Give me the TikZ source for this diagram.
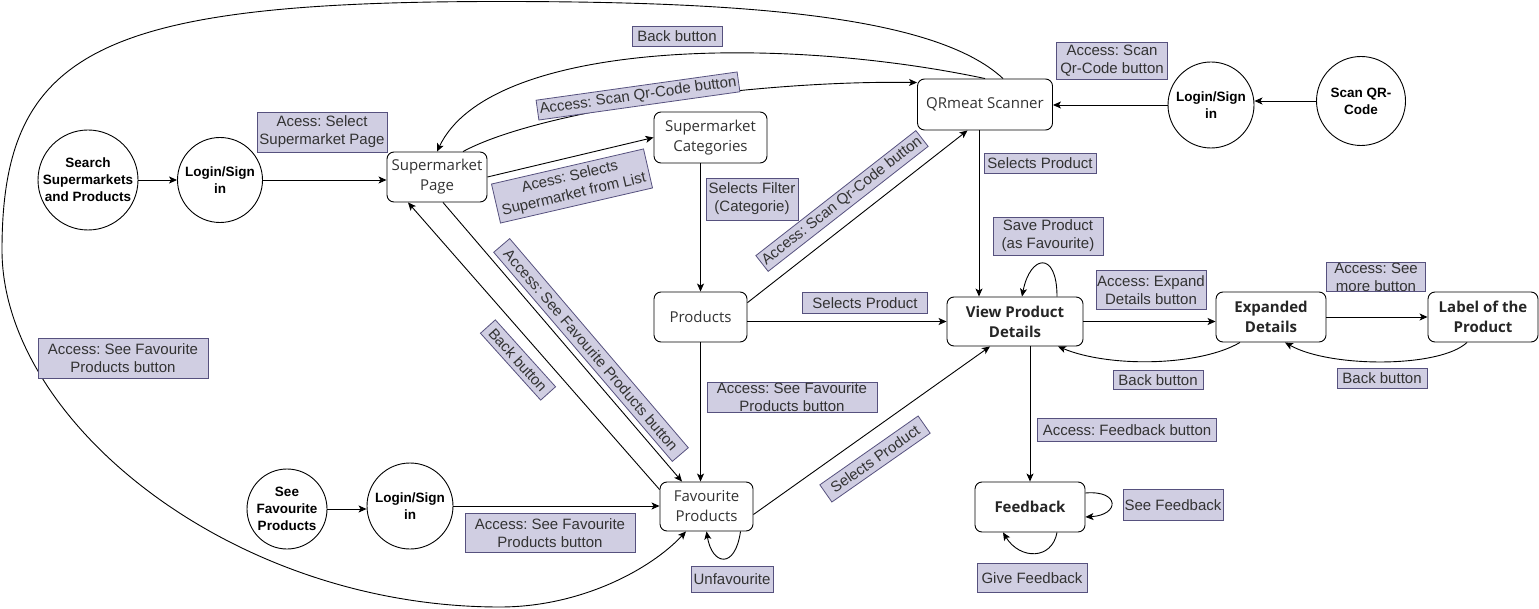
\documentclass[tikz,border=0pt]{standalone}
\usepackage{fontspec}
\setmainfont{Liberation Sans}
\newfontfamily\boxfont{Open Sans}
\usetikzlibrary{arrows.meta,calc}
\definecolor{labfill}{HTML}{D0CEE2}
\definecolor{labdraw}{HTML}{56517E}
\definecolor{txt}{HTML}{333333}
\frenchspacing
\begin{document}
\frenchspacing
\begin{tikzpicture}[x=1pt,y=-1pt,
  >={Stealth[length=8pt,width=7pt,inset=2pt]},
  circ/.style={circle,draw,line width=0.9pt,fill=white,inner sep=0pt},
  ctext/.style={align=center,inner sep=0pt,font=\bfseries\fontsize{13.5}{17}\selectfont},
  rbox/.style={rectangle,rounded corners=7pt,draw,line width=0.9pt,fill=white,inner sep=0pt,align=center,text=txt,font=\boxfont\fontsize{15}{20}\selectfont},
  rboxb/.style={rbox,text=black!85,font=\boxfont\bfseries\fontsize{15}{20}\selectfont},
  lab/.style={rectangle,draw=labdraw,fill=labfill,line width=0.8pt,inner sep=0pt,align=center,text=txt,font=\fontsize{15}{18}\selectfont},
  conn/.style={draw,line width=0.9pt,->},
]
\useasboundingbox[fill=white] (0,0) rectangle (1539,609);

% circles
\node[circ,minimum size=100pt,label={[ctext]center:{Search\\Supermarkets\\and Products}}] (search) at (88,180) {};
\node[circ,minimum size=85pt,label={[ctext]center:{Login/Sign\\in}}] (l1) at (220,180) {};
\node[circ,minimum size=89pt,label={[ctext]center:{Scan QR-\\Code}}] (scan) at (1361,101) {};
\node[circ,minimum size=86pt,label={[ctext]center:{Login/Sign\\in}}] (l3) at (1211,105) {};
\node[circ,minimum size=80pt,label={[ctext]center:{See\\Favourite\\Products}}] (sf) at (287,509) {};
\node[circ,minimum size=86pt,label={[ctext]center:{Login/Sign\\in}}] (l2) at (410,506) {};

% rounded boxes
\node[rbox,minimum width=100pt,minimum height=50pt] (sp) at (437,177) {Supermarket\\Page};
\node[rbox,minimum width=113pt,minimum height=51pt] (sc) at (710.5,137.5) {Supermarket\\Categories};
\node[rbox,minimum width=135pt,minimum height=51pt] (qr) at (985,104.5) {QRmeat Scanner};
\node[rbox,minimum width=93pt,minimum height=50pt] (prod) at (700.5,317) {Products};
\node[rbox,minimum width=93pt,minimum height=49pt] (fav) at (706.5,506.5) {Favourite\\Products};
\node[rboxb,minimum width=136pt,minimum height=49pt] (vpd) at (1015,321.5) {View Product\\Details};
\node[rboxb,minimum width=110pt,minimum height=50pt] (ed) at (1271,317) {Expanded\\Details};
\node[rboxb,minimum width=110pt,minimum height=50pt] (lbl) at (1483,317) {Label of the\\Product};
\node[rboxb,minimum width=110pt,minimum height=50pt] (fb) at (1030,507) {Feedback};

% waypoints of the long loop
\coordinate (w1) at (500,1.5);
\coordinate (w2) at (2,250);
\coordinate (w3) at (500,607);

% connectors
\draw[conn] (search.east) -- (search.east -| l1.west);
\draw[conn] (l1.east) -- (l1.east -| sp.west);
\draw[conn] (sp.east) -- (sc.west);
\draw[conn] ([xshift=26pt]sp.north) .. controls (540,110) and (760,80) .. ([yshift=-4pt]qr.north west);
\draw[conn] (qr.north) .. controls (780,35) and (490,40) .. (sp.north);
\draw[conn] ([xshift=18pt]qr.north) .. controls (935,15) and (740,1.5) .. (w1)
   .. controls (100,1.5) and (2,50) .. (w2)
   .. controls (2,420) and (230,607) .. (w3)
   .. controls (580,607) and (650,570) .. ([xshift=-20.5pt]fav.south);
\draw[conn] ([xshift=6pt]sp.south) -- ([xshift=-24.5pt]fav.north);
\draw[conn] ([yshift=-8pt]fav.north west) -- ([xshift=-29pt]sp.south);
\draw[conn] (sc.south -| prod.north) -- (prod.north);
\draw[conn] (prod.south) -- (prod.south |- fav.north);
\draw[conn] (vpd.west -| prod.east) -- (vpd.west);
\draw[conn] (prod.17) -- (qr.236);
\draw[conn] ([xshift=-6pt]qr.south) -- ([xshift=-6pt]qr.south |- vpd.north);
\draw[conn] (l3.west) -- (l3.west -| qr.east);
\draw[conn] (scan.west) -- (scan.west -| l3.east);
\draw[conn] ([yshift=-8pt]fav.east) -- ([xshift=-25pt]vpd.south);
\draw[conn] (vpd.east) -- (vpd.east -| ed.west);
\draw[conn] (ed.east) -- (lbl.west);
\draw[conn] ([xshift=-31pt]ed.south) .. controls (1200,366) and (1110,368) .. ([xshift=43pt]vpd.south);
\draw[conn] ([xshift=-16pt]lbl.south) .. controls (1440,368) and (1330,368) .. ([xshift=14pt]ed.south);
\draw[conn] (fb.north |- vpd.south) -- (fb.north);
\draw[conn] ([xshift=42pt]vpd.north) .. controls (1057,250) and (1030,255) .. ([xshift=7pt]vpd.north);
\draw[conn] ([xshift=34pt]fav.south) .. controls (735,570) and (712,565) .. (fav.south);
\draw[conn] ([yshift=14pt]fb.east) .. controls (1120,490) and (1120,515) .. ([yshift=-10pt]fb.east);
\draw[conn] ([xshift=27pt]fb.south) .. controls (1052,560) and (1020,560) .. ([xshift=-27pt]fb.south);
\draw[conn] (sf.east) -- (sf.east -| l2.west);
\draw[conn] (l2.east) -- (l2.east -| fav.west);

% labels
\node[lab,minimum width=130pt,minimum height=40pt] (t1) at (322,132) {Acess: Select\\Supermarket Page};
\node[lab,minimum width=90pt,minimum height=20pt] (t2) at (677,36.5) {Back button};
\node[lab,rotate=8,minimum width=203pt,minimum height=20pt] (t3) at (638,96) {Access: Scan Qr-Code button};
\node[lab,rotate=13,minimum width=156pt,minimum height=40pt] (t4) at (572,186) {Acess: Selects\\Supermarket from List};
\node[lab,minimum width=92pt,minimum height=42pt] (t5) at (752,199) {Selects Filter\\(Categorie)};
\node[lab,rotate=38,minimum width=203pt,minimum height=20pt] (t6) at (842,201) {Access: Scan Qr-Code button};
\node[lab,minimum width=111pt,minimum height=37pt] (t7) at (1112,61) {Access: Scan\\Qr-Code button};
\node[lab,minimum width=112pt,minimum height=20pt] (t8) at (1040,163) {Selects Product};
\node[lab,minimum width=110pt,minimum height=38pt] (t9) at (1048,236) {Save Product\\(as Favourite)};
\node[lab,minimum width=125pt,minimum height=21pt] (t10) at (865,303) {Selects Product};
\node[lab,minimum width=110pt,minimum height=39pt] (t11) at (1151,290) {Access: Expand\\Details button};
\node[lab,minimum width=99pt,minimum height=29pt] (t12) at (1376,277) {Access: See\\more button};
\node[lab,minimum width=90pt,minimum height=19pt] (t13) at (1158,380) {Back button};
\node[lab,minimum width=90pt,minimum height=20pt] (t14) at (1382,378) {Back button};
\node[lab,minimum width=179pt,minimum height=23pt] (t15) at (1127,430) {Access: Feedback button};
\node[lab,minimum width=100pt,minimum height=31pt] (t16) at (1173,505) {See Feedback};
\node[lab,minimum width=110pt,minimum height=29pt] (t17) at (1032,578) {Give Feedback};
\node[lab,minimum width=170pt,minimum height=30pt] (t18) at (792,397) {Access: See Favourite\\Products button};
\node[lab,rotate=35,minimum width=120pt,minimum height=21pt] (t19) at (875,459) {Selects Product};
\node[lab,minimum width=82pt,minimum height=26pt] (t20) at (732,579) {Unfavourite};
\node[lab,minimum width=170pt,minimum height=39pt] (t21) at (550,533) {Access: See Favourite\\Products button};
\node[lab,minimum width=170pt,minimum height=40pt] (t22) at (123,358) {Access: See Favourite\\Products button};
\node[lab,rotate=-49.5,minimum width=275pt,minimum height=21pt] (t23) at (591,350) {Access: See Favourite Products button};
\node[lab,rotate=-48,minimum width=90pt,minimum height=20pt] (t24) at (518,360) {Back button};
\end{tikzpicture}
\end{document}
